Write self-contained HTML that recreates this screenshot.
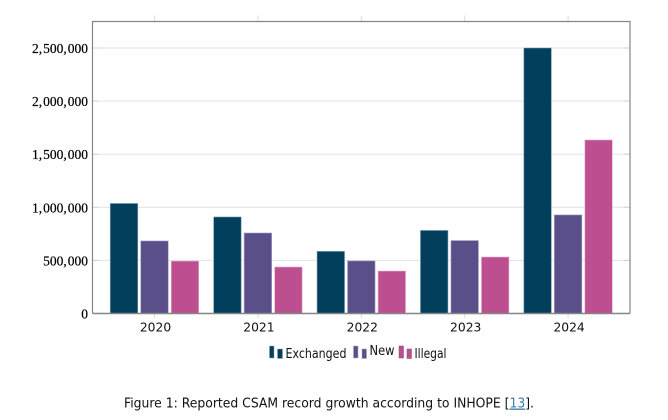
<!DOCTYPE html>
<html lang="en">
<head>
<meta charset="utf-8">
<title>Reported CSAM record growth</title>
<style>
html,body{margin:0;padding:0;background:#fff;width:668px;height:420px;overflow:hidden}
svg{display:block}
.ytick{font-family:"Liberation Serif",serif;font-size:13.5px;fill:#000;text-anchor:end;word-spacing:-2.4px;stroke:#000;stroke-width:.2px}
.xtick{font-family:"DejaVu Sans","Liberation Sans",sans-serif;font-size:12.3px;fill:#111;text-anchor:middle}
.leg{font-family:"DejaVu Sans","Liberation Sans",sans-serif;font-size:13px;fill:#111}
.cap{font-family:"DejaVu Sans","Liberation Sans",sans-serif;font-size:13.6px;fill:#111}
</style>
</head>
<body>
<svg id="chart" xmlns="http://www.w3.org/2000/svg" width="668" height="420" viewBox="0 0 668 420">
  <rect width="668" height="420" fill="#fff"/>
  <g id="grid"></g>
  <g id="bars"></g>
  <g id="axes"></g>
  <g>
    <g>
      <rect x="269.5" y="346" width="4.5" height="12" fill="#013f5c" stroke="#8fa5b2" stroke-width=".5"/>
      <rect x="277.5" y="349" width="5" height="9.5" fill="#013f5c" stroke="#8fa5b2" stroke-width=".5"/>
      <text class="leg" x="285.5" y="358" textLength="61" lengthAdjust="spacingAndGlyphs">Exchanged</text>
    </g>
    <g>
      <rect x="353.5" y="346" width="4.5" height="12" fill="#5b4f8a" stroke="#a8a3c4" stroke-width=".5"/>
      <rect x="362" y="349" width="4.5" height="9.5" fill="#5b4f8a" stroke="#a8a3c4" stroke-width=".5"/>
      <text class="leg" x="369.5" y="355" textLength="25" lengthAdjust="spacingAndGlyphs">New</text>
    </g>
    <g>
      <rect x="399" y="346" width="4.5" height="12" fill="#bd4f90" stroke="#8a4a70" stroke-width=".5"/>
      <rect x="407" y="349" width="4.5" height="9.5" fill="#bd4f90" stroke="#8a4a70" stroke-width=".5"/>
      <text class="leg" x="414.5" y="358" textLength="32" lengthAdjust="spacingAndGlyphs">Illegal</text>
    </g>
  </g>
  <text class="cap" x="124" y="407.5" textLength="410" lengthAdjust="spacingAndGlyphs">Figure 1: Reported CSAM record growth according to INHOPE [<tspan fill="#3f7fa6" text-decoration="underline">13</tspan>].</text>
</svg>
<script>
const categories = ["2020", "2021", "2022", "2023", "2024"];
const exchanged = [1036000, 909000, 585000, 782000, 2500000];
const newRecords = [683000, 758000, 495000, 687000, 928000];
const illegal = [494000, 438000, 400000, 532000, 1634000];
const yTickValues = [0, 500000, 1000000, 1500000, 2000000, 2500000];
const yTickLabels = ["0", "500, 000", "1, 000, 000", "1, 500, 000", "2, 000, 000", "2, 500, 000"];
const seriesNames = ["exchanged", "new", "illegal"];
const seriesValues = [exchanged, newRecords, illegal];
const seriesFills = ["#013f5c", "#5b4f8a", "#bd4f90"];
const seriesEdges = ["#7f9fae", "#a5a0c2", "#e4b4d0"];

const NS = "http://www.w3.org/2000/svg";
const plotLeft = 92.5, plotRight = 630, plotTop = 21.5, plotBottom = 313.5;
const yMaxValue = 2500000, yMaxPixel = 48;
const firstCat = 154.5, catStep = 103.4, barStep = 30.5, barWidth = 27.5;

function yScale(v) {
  return plotBottom - (v / yMaxValue) * (plotBottom - yMaxPixel);
}
function xScale(i) {
  return firstCat + i * catStep;
}
function make(tag, attrs, parent) {
  const el = document.createElementNS(NS, tag);
  for (const k in attrs) el.setAttribute(k, attrs[k]);
  parent.appendChild(el);
  return el;
}

const grid = document.getElementById("grid");
const bars = document.getElementById("bars");
const axes = document.getElementById("axes");

yTickValues.forEach(function (v, i) {
  const y = yScale(v);
  if (v > 0) {
    const line = make("line", {x1: plotLeft, x2: plotRight, y1: y, y2: y, stroke: "#e2e2e2", "stroke-width": 1}, grid);
    
    
    const tl = make("line", {x1: plotLeft, x2: plotLeft + 6, y1: y, y2: y, stroke: "#d2d2d2", "stroke-width": 1}, grid);
    
    
    const tr = make("line", {x1: plotRight - 6, x2: plotRight, y1: y, y2: y, stroke: "#d2d2d2", "stroke-width": 1}, grid);
    
    
  }
  const label = make("text", {class: "ytick", x: 88, y: y + 5}, axes);
  
  
  label.textContent = yTickLabels[i];
});

categories.forEach(function (c, i) {
  const cx = xScale(i);
  const topTick = make("line", {x1: cx, x2: cx, y1: plotTop - 6, y2: plotTop, stroke: "#dcdcdc", "stroke-width": 1}, axes);
  
  
  const bottomTick = make("line", {x1: cx, x2: cx, y1: plotBottom, y2: plotBottom + 5, stroke: "#dcdcdc", "stroke-width": 1}, axes);
  
  
  const label = make("text", {class: "xtick", x: cx + 1, y: plotBottom + 18}, axes);
  
  
  label.textContent = c;

  seriesValues.forEach(function (vals, s) {
    const top = yScale(vals[i]);
    const left = cx + (s - 1) * barStep - barWidth / 2;
    const bar = make("rect", {
      x: left, y: top, width: barWidth, height: plotBottom - top,
      fill: seriesFills[s], stroke: seriesEdges[s], "stroke-width": 0.6
    }, bars);
    
    
  });
});

const frame = make("path", {
  d: "M" + plotLeft + " " + plotBottom + "V" + plotTop + "H" + plotRight + "V" + plotBottom,
  fill: "none", stroke: "#858585", "stroke-width": 1.2
}, axes);


const xAxis = make("line", {x1: plotLeft, x2: plotRight, y1: plotBottom, y2: plotBottom, stroke: "#858585", "stroke-width": 1.4}, axes);


</script>
</body>
</html>
